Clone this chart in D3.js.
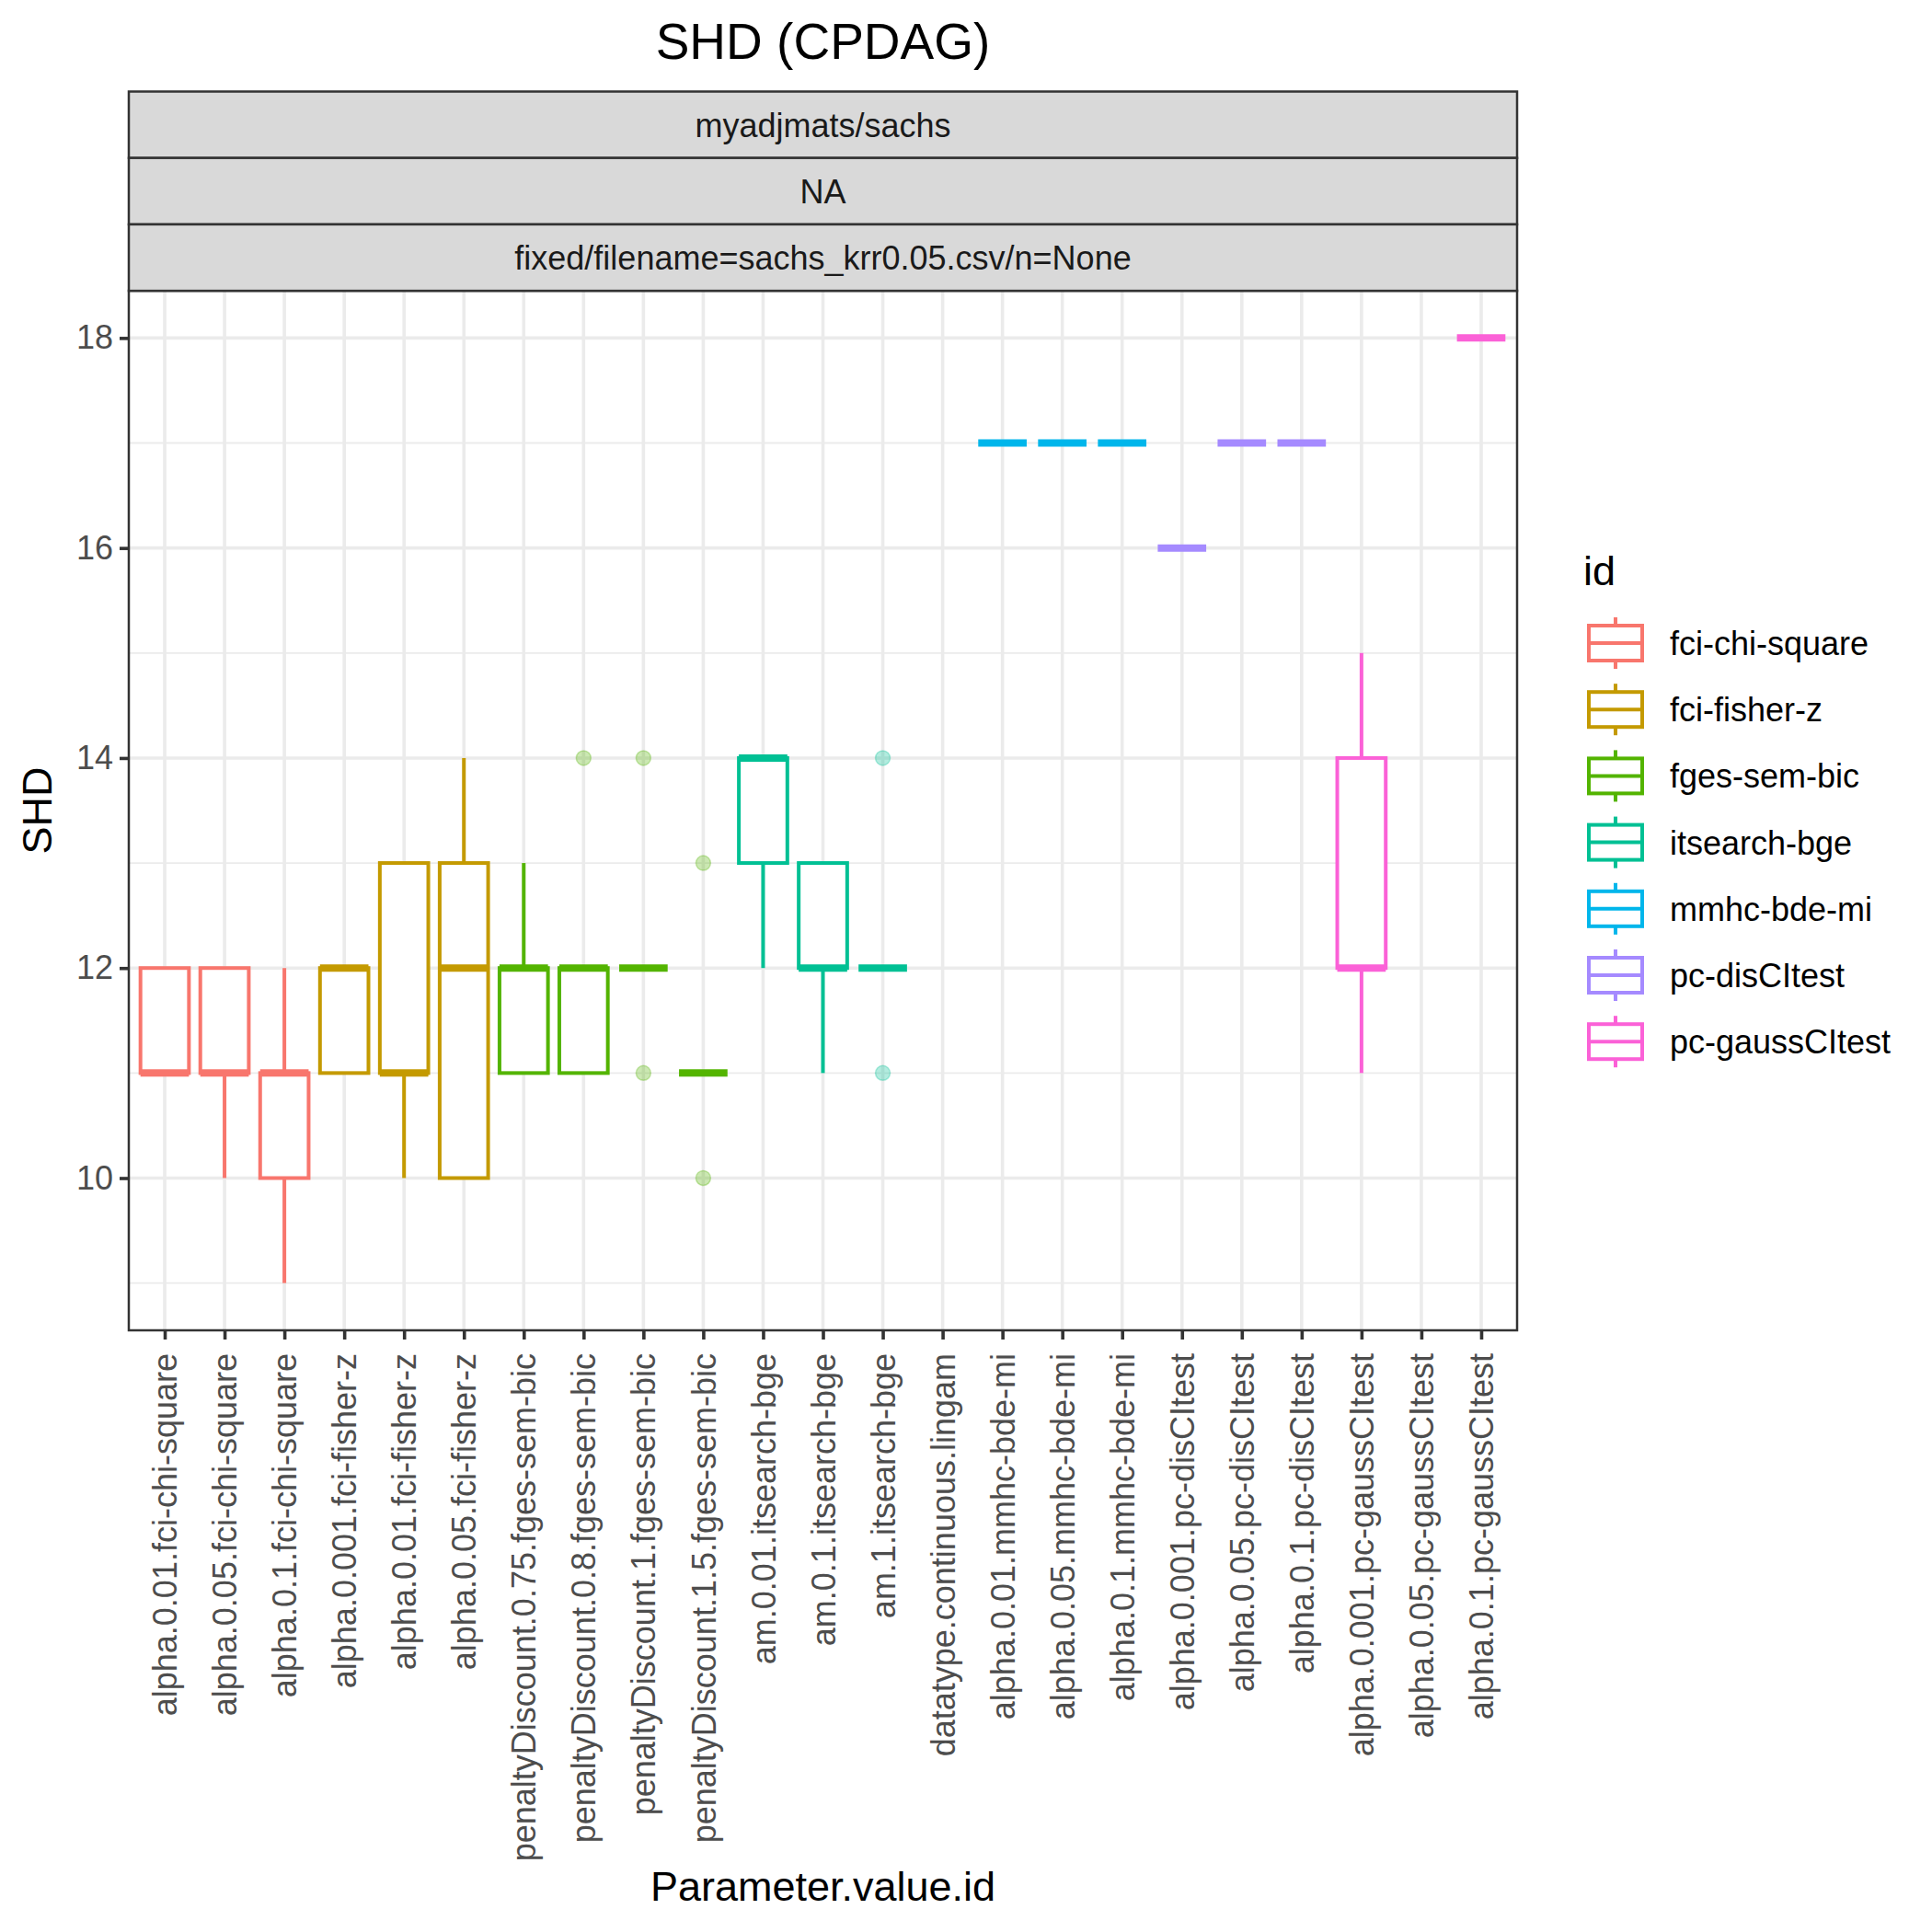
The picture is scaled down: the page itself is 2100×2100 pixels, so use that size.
<!DOCTYPE html>
<html>
<head>
<meta charset="utf-8">
<script src="https://cdn.jsdelivr.net/npm/d3@7"></script>
<style>
  body { margin: 0; background: #fff; }
  text { font-family: "Liberation Sans", Arial, sans-serif; }
</style>
</head>
<body>
<script>
// categories on the x axis
var categories = [
  "alpha.0.01.fci-chi-square", "alpha.0.05.fci-chi-square", "alpha.0.1.fci-chi-square",
  "alpha.0.001.fci-fisher-z", "alpha.0.01.fci-fisher-z", "alpha.0.05.fci-fisher-z",
  "penaltyDiscount.0.75.fges-sem-bic", "penaltyDiscount.0.8.fges-sem-bic",
  "penaltyDiscount.1.fges-sem-bic", "penaltyDiscount.1.5.fges-sem-bic",
  "am.0.01.itsearch-bge", "am.0.1.itsearch-bge", "am.1.itsearch-bge",
  "datatype.continuous.lingam",
  "alpha.0.01.mmhc-bde-mi", "alpha.0.05.mmhc-bde-mi", "alpha.0.1.mmhc-bde-mi",
  "alpha.0.001.pc-disCItest", "alpha.0.05.pc-disCItest", "alpha.0.1.pc-disCItest",
  "alpha.0.001.pc-gaussCItest", "alpha.0.05.pc-gaussCItest", "alpha.0.1.pc-gaussCItest"
];
// id (colour group) of each category
var groupOf = [
  "fci-chi-square", "fci-chi-square", "fci-chi-square",
  "fci-fisher-z", "fci-fisher-z", "fci-fisher-z",
  "fges-sem-bic", "fges-sem-bic", "fges-sem-bic", "fges-sem-bic",
  "itsearch-bge", "itsearch-bge", "itsearch-bge",
  null,
  "mmhc-bde-mi", "mmhc-bde-mi", "mmhc-bde-mi",
  "pc-disCItest", "pc-disCItest", "pc-disCItest",
  "pc-gaussCItest", "pc-gaussCItest", "pc-gaussCItest"
];
// box statistics (null = no data)
var whiskerLow  = [11, 10, 9, 11, 10, 10, 11, 11, 12, 11, 12, 11, 12, null, 17, 17, 17, 16, 17, 17, 11, null, 18];
var q1          = [11, 11, 10, 11, 11, 10, 11, 11, 12, 11, 13, 12, 12, null, 17, 17, 17, 16, 17, 17, 12, null, 18];
var median      = [11, 11, 11, 12, 11, 12, 12, 12, 12, 11, 14, 12, 12, null, 17, 17, 17, 16, 17, 17, 12, null, 18];
var q3          = [12, 12, 11, 12, 13, 13, 12, 12, 12, 11, 14, 13, 12, null, 17, 17, 17, 16, 17, 17, 14, null, 18];
var whiskerHigh = [12, 12, 12, 12, 13, 14, 13, 12, 12, 11, 14, 13, 12, null, 17, 17, 17, 16, 17, 17, 15, null, 18];
var outliers    = [[], [], [], [], [], [], [], [14], [14, 11], [13, 10], [], [], [14, 11], [], [], [], [], [], [], [], [], [], []];

var ids = ["fci-chi-square", "fci-fisher-z", "fges-sem-bic", "itsearch-bge", "mmhc-bde-mi", "pc-disCItest", "pc-gaussCItest"];
var idColors = ["#F8766D", "#C49A00", "#53B400", "#00C094", "#00B6EB", "#A58AFF", "#FB61D7"];

var yTicks = [10, 12, 14, 16, 18];
var yMinor = [9, 11, 13, 15, 17];
var stripLabels = ["myadjmats/sachs", "NA", "fixed/filename=sachs_krr0.05.csv/n=None"];

var width = 2100, height = 2100;
var panel = {left: 140, right: 1649, top: 316, bottom: 1446};
var stripTop = 99.5, stripH = 72.2;
var small = 36, big = 45;

var color = d3.scaleOrdinal().domain(ids).range(idColors);

var svg = d3.select("body").append("svg")
  .attr("width", width).attr("height", height);

svg.append("rect").attr("width", width).attr("height", height).attr("fill", "#fff");

var x = d3.scalePoint()
  .domain(categories)
  .range([panel.left, panel.right])
  .padding(0.6);

var y = d3.scaleLinear()
  .domain([8.55, 18.45])
  .range([panel.bottom, panel.top]);

var step = x.step();
var boxW = step * 0.81;

// grid
var grid = svg.append("g");
grid.selectAll(".minor").data(yMinor).enter().append("line")
  .attr("x1", panel.left).attr("x2", panel.right)
  .attr("y1", d => y(d)).attr("y2", d => y(d))
  .attr("stroke", "#EBEBEB").attr("stroke-width", 1.8);
grid.selectAll(".major").data(yTicks).enter().append("line")
  .attr("x1", panel.left).attr("x2", panel.right)
  .attr("y1", d => y(d)).attr("y2", d => y(d))
  .attr("stroke", "#EBEBEB").attr("stroke-width", 3.6);
grid.selectAll(".vmajor").data(categories).enter().append("line")
  .attr("x1", d => x(d)).attr("x2", d => x(d))
  .attr("y1", panel.top).attr("y2", panel.bottom)
  .attr("stroke", "#EBEBEB").attr("stroke-width", 3.6);

// boxes
var rows = categories.map(function(c, i) {
  return {cat: c, id: groupOf[i], lo: whiskerLow[i], q1: q1[i], med: median[i], q3: q3[i], hi: whiskerHigh[i], out: outliers[i]};
}).filter(d => d.id !== null && d.med !== null);

var boxes = svg.append("g").selectAll("g").data(rows).enter().append("g");

boxes.append("line")
  .attr("x1", d => x(d.cat)).attr("x2", d => x(d.cat))
  .attr("y1", d => y(d.q3)).attr("y2", d => y(d.hi))
  .attr("stroke", d => color(d.id)).attr("stroke-width", 4);
boxes.append("line")
  .attr("x1", d => x(d.cat)).attr("x2", d => x(d.cat))
  .attr("y1", d => y(d.q1)).attr("y2", d => y(d.lo))
  .attr("stroke", d => color(d.id)).attr("stroke-width", 4);
boxes.append("rect")
  .attr("x", d => x(d.cat) - boxW / 2)
  .attr("width", boxW)
  .attr("y", d => y(d.q3))
  .attr("height", d => y(d.q1) - y(d.q3))
  .attr("fill", "#fff")
  .attr("stroke", d => color(d.id)).attr("stroke-width", 4);
boxes.append("line")
  .attr("x1", d => x(d.cat) - boxW / 2).attr("x2", d => x(d.cat) + boxW / 2)
  .attr("y1", d => y(d.med)).attr("y2", d => y(d.med))
  .attr("stroke", d => color(d.id)).attr("stroke-width", 8);

boxes.selectAll("circle").data(d => d.out.map(v => ({cat: d.cat, id: d.id, v: v}))).enter()
  .append("circle")
  .attr("cx", d => x(d.cat)).attr("cy", d => y(d.v)).attr("r", 8)
  .attr("fill", d => color(d.id)).attr("fill-opacity", 0.3)
  .attr("stroke", d => color(d.id)).attr("stroke-opacity", 0.3).attr("stroke-width", 1.5);

// panel border
svg.append("rect")
  .attr("x", panel.left).attr("y", panel.top)
  .attr("width", panel.right - panel.left).attr("height", panel.bottom - panel.top)
  .attr("fill", "none").attr("stroke", "#333333").attr("stroke-width", 2.5);

// strips
stripLabels.forEach(function(lab, i) {
  var top = stripTop + i * stripH;
  svg.append("rect")
    .attr("x", panel.left).attr("y", top)
    .attr("width", panel.right - panel.left).attr("height", stripH)
    .attr("fill", "#D9D9D9").attr("stroke", "#333333").attr("stroke-width", 2.5);
  svg.append("text")
    .attr("x", (panel.left + panel.right) / 2).attr("y", top + stripH / 2 + 13)
    .attr("text-anchor", "middle").attr("font-size", small).attr("fill", "#1A1A1A")
    .text(lab);
});

// y axis
var yAxis = svg.append("g")
  .attr("transform", "translate(" + panel.left + ",0)")
  .call(d3.axisLeft(y).tickValues(yTicks).tickSize(10).tickPadding(7).tickFormat(d3.format("d")));
yAxis.select(".domain").remove();
yAxis.selectAll(".tick line").attr("stroke", "#333333").attr("stroke-width", 3.6);
yAxis.selectAll(".tick text").attr("font-size", small).attr("fill", "#4D4D4D")
  .attr("font-family", "Liberation Sans, Arial, sans-serif");

// x axis
var xAxis = svg.append("g")
  .attr("transform", "translate(0," + panel.bottom + ")")
  .call(d3.axisBottom(x).tickSize(10).tickPadding(0));
xAxis.select(".domain").remove();
xAxis.selectAll(".tick line").attr("stroke", "#333333").attr("stroke-width", 3.6);
xAxis.selectAll(".tick text")
  .attr("font-size", small).attr("fill", "#4D4D4D")
  .attr("font-family", "Liberation Sans, Arial, sans-serif")
  .attr("text-anchor", "end")
  .attr("dy", "0.35em")
  .attr("transform", "translate(0,25) rotate(-90)")
  .attr("x", 0).attr("y", 0);

// titles
svg.append("text")
  .attr("x", (panel.left + panel.right) / 2).attr("y", 64)
  .attr("text-anchor", "middle").attr("font-size", 55).attr("fill", "#000")
  .text("SHD (CPDAG)");
svg.append("text")
  .attr("x", (panel.left + panel.right) / 2).attr("y", 2066)
  .attr("text-anchor", "middle").attr("font-size", big).attr("fill", "#000")
  .text("Parameter.value.id");
svg.append("text")
  .attr("transform", "translate(56," + ((panel.top + panel.bottom) / 2) + ") rotate(-90)")
  .attr("text-anchor", "middle").attr("font-size", big).attr("fill", "#000")
  .text("SHD");

// legend
var legend = svg.append("g");
legend.append("text").attr("x", 1721).attr("y", 636)
  .attr("font-size", big).attr("fill", "#000").text("id");
var keyH = 72.2, kx0 = 1727, kx1 = 1785, kcx = (kx0 + kx1) / 2;
var items = legend.selectAll(".item").data(ids).enter().append("g")
  .attr("transform", (d, i) => "translate(0," + (699 + i * keyH) + ")");
items.append("line").attr("x1", kcx).attr("x2", kcx).attr("y1", -28).attr("y2", 28)
  .attr("stroke", d => color(d)).attr("stroke-width", 4);
items.append("rect").attr("x", kx0).attr("y", -19).attr("width", kx1 - kx0).attr("height", 38)
  .attr("fill", "#fff").attr("stroke", d => color(d)).attr("stroke-width", 4);
items.append("line").attr("x1", kx0).attr("x2", kx1).attr("y1", 0).attr("y2", 0)
  .attr("stroke", d => color(d)).attr("stroke-width", 4);
items.append("text").attr("x", 1815).attr("y", 13)
  .attr("font-size", small).attr("fill", "#000").text(d => d);
</script>
</body>
</html>
